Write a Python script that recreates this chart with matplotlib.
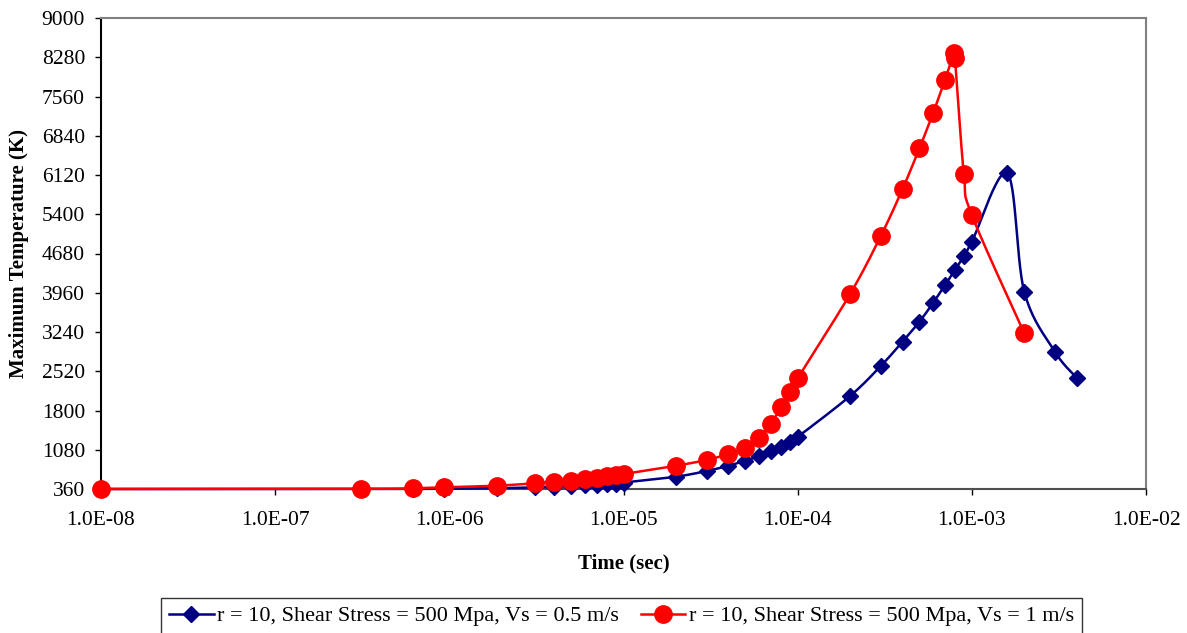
import numpy as np
import matplotlib
matplotlib.use("Agg")
import matplotlib.pyplot as plt
from matplotlib.lines import Line2D
from matplotlib.ticker import FixedLocator, FuncFormatter

plt.rcParams['font.family'] = ['Liberation Serif', 'DejaVu Serif']

# ---- data ----
blue_t = [1e-8, 3.1e-7, 6.2e-7, 9.3e-7, 1.87e-6, 3.1e-6, 4e-6, 5e-6, 6e-6, 7e-6, 8e-6, 9e-6, 1e-5,
          2e-5, 3e-5, 4e-5, 5e-5, 6e-5, 7e-5, 8e-5, 9e-5, 1e-4,
          2e-4, 3e-4, 4e-4, 5e-4, 6e-4, 7e-4, 8e-4, 9e-4, 1e-3,
          1.6e-3, 2e-3, 3e-3, 4e-3]
blue_T = [360, 360, 362, 365, 375, 390, 405, 415, 425, 440, 450, 460, 478,
          586, 690, 787, 879, 965, 1062, 1136, 1227, 1316,
          2066, 2616, 3062, 3428, 3777, 4096, 4376, 4633, 4896,
          6150, 3979, 2878, 2401]

red_t = [1e-8, 3.1e-7, 6.2e-7, 9.3e-7, 1.87e-6, 3.1e-6, 4e-6, 5e-6, 6e-6, 7e-6, 8e-6, 9e-6, 1e-5,
         2e-5, 3e-5, 4e-5, 5e-5, 6e-5, 7e-5, 8e-5, 9e-5, 1e-4,
         2e-4, 3e-4, 4e-4, 5e-4, 6e-4, 7e-4, 7.9e-4, 8e-4, 9e-4, 1e-3, 2e-3]
red_T = [360, 362, 373, 391, 421, 465, 494, 512, 543, 567, 598, 617, 635,
         787, 892, 1002, 1117, 1301, 1552, 1858, 2145, 2390,
         3936, 5000, 5862, 6609, 7261, 7861, 8351, 8259, 6137, 5385, 3216]

blue_label = "r = 10, Shear Stress = 500 Mpa, Vs = 0.5 m/s"
red_label = "r = 10, Shear Stress = 500 Mpa, Vs = 1 m/s"
x_ticks = [1e-8, 1e-7, 1e-6, 1e-5, 1e-4, 1e-3, 1e-2]
y_ticks = list(range(360, 9001, 720))

# ---- smoothing (Excel-like Catmull-Rom in display space) ----
def smooth(t, T, sx=174.2, sy=18.34, n=30):
    u = np.log10(np.asarray(t, float)) * sx
    v = np.asarray(T, float) / sy
    P = np.column_stack([u, v])
    out = [P[0]]
    for i in range(len(P) - 1):
        p0 = P[i - 1] if i > 0 else P[i]
        p1 = P[i]
        p2 = P[i + 1]
        p3 = P[i + 2] if i + 2 < len(P) else P[i + 1]
        c1 = p1 + (p2 - p0) / 6.0
        c2 = p2 - (p3 - p1) / 6.0
        s = np.linspace(0, 1, n)[1:, None]
        seg = ((1 - s) ** 3) * p1 + 3 * ((1 - s) ** 2) * s * c1 + 3 * (1 - s) * s ** 2 * c2 + s ** 3 * p2
        out.extend(seg)
    out = np.array(out)
    return 10 ** (out[:, 0] / sx), out[:, 1] * sy

W, H = 1187, 633
fig = plt.figure(figsize=(W / 100, H / 100), dpi=100)
ax = fig.add_axes([101 / W, 1 - 489 / H, (1146 - 101) / W, (489 - 18) / H])

blue = '#000080'
red = '#FF0000'

bx, by = smooth(blue_t, blue_T)
rx, ry = smooth(red_t, red_T)
ax.plot(bx, by, color=blue, lw=1.8, zorder=3, clip_on=False)
ax.plot(blue_t, blue_T, linestyle='none', marker='D', color=blue, markersize=8.5, zorder=4, clip_on=False)
ax.plot(rx, ry, color=red, lw=1.8, zorder=5, clip_on=False)
ax.plot(red_t, red_T, linestyle='none', marker='o', color=red, markersize=12.5, zorder=6, clip_on=False)

ax.set_xscale('log')
ax.set_xlim(1e-8, 1e-2)
ax.set_ylim(360, 9000)
ax.xaxis.set_major_locator(FixedLocator(x_ticks))
ax.xaxis.set_minor_locator(FixedLocator([]))
ax.xaxis.set_major_formatter(FuncFormatter(lambda v, p: "%.1E" % v))
ax.yaxis.set_major_locator(FixedLocator(y_ticks))
ax.yaxis.set_major_formatter(FuncFormatter(lambda v, p: "%d" % v))
ax.tick_params(axis='both', direction='out', length=4.5, width=1, labelsize=15.5, colors='black')
ax.tick_params(axis='x', pad=11)
ax.tick_params(axis='y', pad=7)

ax.spines['left'].set_color('black')
ax.spines['bottom'].set_color('#505050')
ax.spines['top'].set_color('#808080')
ax.spines['right'].set_color('#808080')
for s in ax.spines.values():
    s.set_linewidth(1.5)

ax.set_xlabel("Time (sec)", fontsize=15, fontweight='bold', labelpad=17)
ax.set_ylabel("Maximum Temperature (K)", fontsize=15, fontweight='bold', labelpad=9)

handles = [Line2D([], [], color=blue, lw=1.8, marker='D', markersize=8.5),
           Line2D([], [], color=red, lw=1.8, marker='o', markersize=12.5)]
leg = fig.legend(handles, [blue_label, red_label], loc='upper center',
                 bbox_to_anchor=(621.5 / W, 1 - 598 / H), ncol=2, fontsize=16,
                 frameon=True, fancybox=False, edgecolor='black', handlelength=2.0,
                 handletextpad=0.15, columnspacing=1.0, borderpad=0.35, borderaxespad=0)
leg.get_frame().set_linewidth(1.0)

fig.savefig("out.png", dpi=100)
